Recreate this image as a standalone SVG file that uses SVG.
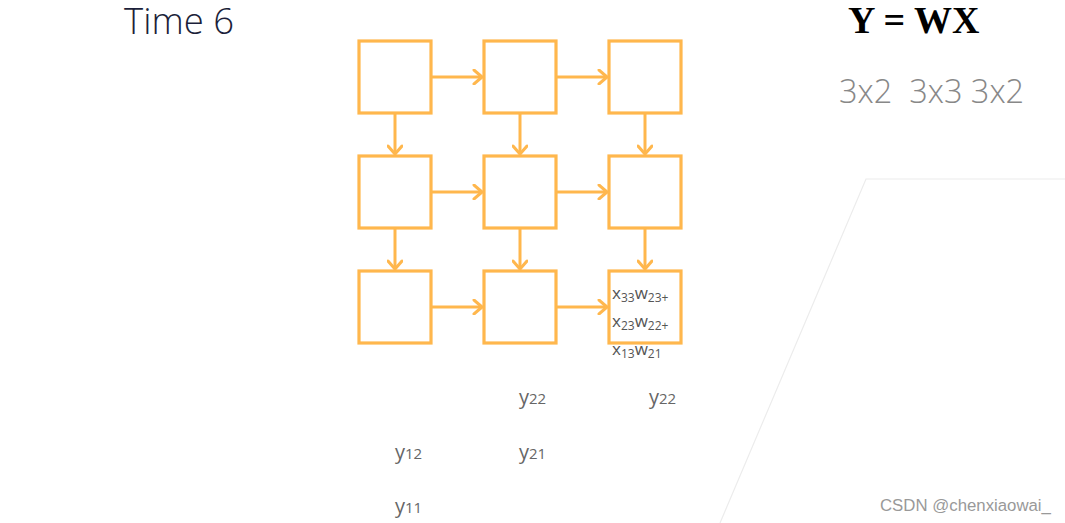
<svg xmlns="http://www.w3.org/2000/svg" width="1065" height="523" viewBox="0 0 1065 523">
<defs>
<marker id="ah" markerWidth="12" markerHeight="16" refX="10" refY="8" orient="auto" markerUnits="userSpaceOnUse">
<polyline points="2,1 10,8 2,15" fill="none" stroke="#FFB74D" stroke-width="3" stroke-linecap="round" stroke-linejoin="round"/>
</marker>
<style>
.box{fill:#fff;stroke:#FFB74D;stroke-width:3.2}
.con line{stroke:#FFB74D;stroke-width:3;marker-end:url(#ah)}
.t{font-family:"Open Sans","Noto Sans",sans-serif;font-weight:300}
.cell{font-family:"Open Sans","Noto Sans",sans-serif;font-size:17px;fill:#555}
.sub{font-size:12px}
.y{font-family:"Open Sans","Noto Sans",sans-serif;font-size:20px;fill:#666}
</style>
</defs>
<rect width="1065" height="523" fill="#fff"/>
<polyline points="720,523 866,179 1065,179" fill="none" stroke="#ececec" stroke-width="1.2"/>
<text class="t" x="124" y="34" font-size="36.5" fill="#1c1f3a">Time 6</text>
<text x="848" y="33" font-family="Liberation Serif,serif" font-weight="bold" font-size="38" fill="#000">Y = WX</text>
<text class="t" x="839" y="103" font-size="32.5" fill="#888" xml:space="preserve">3x2  3x3 3x2</text>
<g id="nodes">
<g id="n11"><rect class="box" x="359" y="41" width="72" height="72"/></g>
<g id="n12"><rect class="box" x="484" y="41" width="72" height="72"/></g>
<g id="n13"><rect class="box" x="609" y="41" width="72" height="72"/></g>
<g id="n21"><rect class="box" x="359" y="156" width="72" height="72"/></g>
<g id="n22"><rect class="box" x="484" y="156" width="72" height="72"/></g>
<g id="n23"><rect class="box" x="609" y="156" width="72" height="72"/></g>
<g id="n31"><rect class="box" x="359" y="271" width="72" height="72"/></g>
<g id="n32"><rect class="box" x="484" y="271" width="72" height="72"/></g>
<g id="n33"><rect class="box" x="609" y="271" width="72" height="72"/>
<text class="cell" x="612" y="299">x<tspan class="sub" dy="3">33</tspan><tspan dy="-3">w</tspan><tspan class="sub" dy="3">23+</tspan></text>
<text class="cell" x="612" y="327">x<tspan class="sub" dy="3">23</tspan><tspan dy="-3">w</tspan><tspan class="sub" dy="3">22+</tspan></text>
<text class="cell" x="612" y="355">x<tspan class="sub" dy="3">13</tspan><tspan dy="-3">w</tspan><tspan class="sub" dy="3">21</tspan></text>
</g>
</g>
<g class="con" id="connectors">
<line x1="431" y1="77" x2="482" y2="77"/>
<line x1="556" y1="77" x2="607" y2="77"/>
<line x1="431" y1="192" x2="482" y2="192"/>
<line x1="556" y1="192" x2="607" y2="192"/>
<line x1="431" y1="307" x2="482" y2="307"/>
<line x1="556" y1="307" x2="607" y2="307"/>
<line x1="395" y1="113" x2="395" y2="154"/>
<line x1="520" y1="113" x2="520" y2="154"/>
<line x1="645" y1="113" x2="645" y2="154"/>
<line x1="395" y1="228" x2="395" y2="269"/>
<line x1="520" y1="228" x2="520" y2="269"/>
<line x1="645" y1="228" x2="645" y2="269"/>
</g>
<text class="y" x="519" y="404">y<tspan font-size="15">22</tspan></text>
<text class="y" x="649" y="404">y<tspan font-size="15">22</tspan></text>
<text class="y" x="395" y="459">y<tspan font-size="15">12</tspan></text>
<text class="y" x="519" y="459">y<tspan font-size="15">21</tspan></text>
<text class="y" x="395" y="513">y<tspan font-size="15">11</tspan></text>
<text x="880" y="511" font-family="Liberation Sans,Arial,sans-serif" font-size="16.8" fill="#999">CSDN @chenxiaowai_</text>
</svg>
